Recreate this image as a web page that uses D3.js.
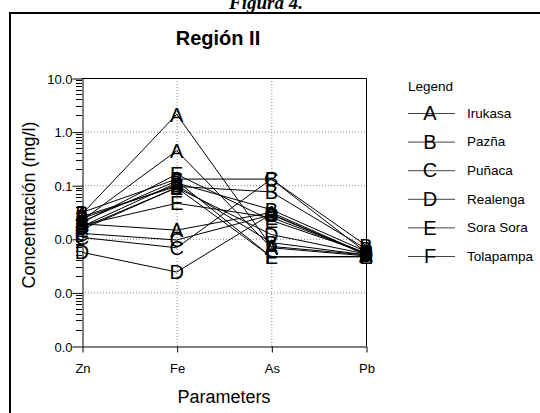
<!DOCTYPE html>
<html>
<head>
<meta charset="utf-8">
<script src="https://cdn.jsdelivr.net/npm/d3@7"></script>
<style>
  body { margin: 0; background: #fff; }
  svg { display: block; font-family: "Liberation Sans", Arial, sans-serif; }
</style>
</head>
<body>
<div id="chart"></div>
<script>
const params = ["Zn", "Fe", "As", "Pb"];
const sites = ["Irukasa", "Pazña", "Puñaca", "Realenga", "Sora Sora", "Tolapampa"];
const siteLetters = ["A", "B", "C", "D", "E", "F"];
const yTicks = [10, 1, 0.1, 0.01, 0.001, 0.0001];

// one entry per sample line
const sampleLetter = ["A", "A", "A", "B", "B", "B", "B", "C", "C", "D", "D", "E", "E", "F", "E"];
const znVals = [0.029, 0.022, 0.019, 0.031, 0.026, 0.024, 0.017, 0.0106, 0.0126, 0.0056, 0.016, 0.020, 0.018, 0.021, 0.015];
const feVals = [2.1, 0.44, 0.0145, 0.13, 0.095, 0.10, 0.11, 0.0068, 0.0095, 0.0024, 0.09, 0.16, 0.046, 0.12, 0.09];
const asVals = [0.0072, 0.0068, 0.031, 0.13, 0.075, 0.0085, 0.035, 0.13, 0.028, 0.029, 0.012, 0.022, 0.025, 0.0046, 0.0046];
const pbVals = [0.0050, 0.0048, 0.0052, 0.0075, 0.0065, 0.0050, 0.0058, 0.0056, 0.0053, 0.0050, 0.0052, 0.0055, 0.0054, 0.0046, 0.0047];

const samples = sampleLetter.map((l, i) => ({
    letter: l,
    values: [znVals[i], feVals[i], asVals[i], pbVals[i]]
}));

const W = 540, H = 413;
const plot = {left: 82, right: 366, top: 78, bottom: 346};

const svg = d3.select("#chart").append("svg")
    .attr("width", W)
    .attr("height", H);

// figure caption (cut at top edge, as in the scan)
svg.append("text")
    .attr("x", 266).attr("y", 9)
    .attr("text-anchor", "middle")
    .style("font-family", "'Liberation Serif', 'Times New Roman', serif")
    .style("font-weight", "bold").style("font-style", "italic")
    .style("font-size", "19px")
    .text("Figura 4.");

// outer frame
svg.append("rect")
    .attr("x", 10).attr("y", 13)
    .attr("width", 600).attr("height", 500)
    .attr("fill", "none").attr("stroke", "#000").attr("stroke-width", 2);

svg.append("text")
    .attr("x", 218).attr("y", 45)
    .attr("text-anchor", "middle")
    .style("font-weight", "bold").style("font-size", "20px")
    .text("Región II");

const x = d3.scalePoint()
    .domain(params)
    .range([plot.left, plot.right]);
const y = d3.scaleLog()
    .domain([0.0001, 10])
    .range([plot.bottom, plot.top]);

// grid
const grid = svg.append("g").attr("stroke", "#888").attr("stroke-dasharray", "1,2");
grid.selectAll(".hg")
    .data(yTicks.filter(d => d < 10 && d > 0.0001))
    .enter().append("line")
    .attr("x1", plot.left).attr("x2", plot.right)
    .attr("y1", d => y(d) + 0.5).attr("y2", d => y(d) + 0.5);
grid.selectAll(".vg")
    .data(["Fe", "As"])
    .enter().append("line")
    .attr("x1", d => x(d) + 0.5).attr("x2", d => x(d) + 0.5)
    .attr("y1", plot.top).attr("y2", plot.bottom);

// frame top / right
svg.append("path")
    .attr("d", "M" + plot.left + "," + (plot.top + 0.5) + "H" + (plot.right + 0.5) + "V" + plot.bottom)
    .attr("fill", "none").attr("stroke", "#000");

// minor ticks
const minor = [];
for (let e = -4; e < 1; e++) {
    for (let m = 2; m <= 9; m++) minor.push(m * Math.pow(10, e));
}
svg.append("g").selectAll("line")
    .data(minor)
    .enter().append("line")
    .attr("x1", plot.left - 6).attr("x2", plot.left)
    .attr("y1", d => Math.round(y(d)) + 0.5).attr("y2", d => Math.round(y(d)) + 0.5)
    .attr("stroke", "#000");

// y axis
const yAxis = svg.append("g")
    .attr("transform", "translate(" + (plot.left + 0.5) + ",0.5)")
    .call(d3.axisLeft(y).tickValues(yTicks).tickFormat(d3.format(".1f")).tickSize(10).tickPadding(0).tickSizeOuter(0));
yAxis.selectAll("text").style("font-size", "13px").attr("dy", "0.35em");
yAxis.select(".domain").attr("stroke", "#000");

// x axis
const xAxis = svg.append("g")
    .attr("transform", "translate(0.5," + (plot.bottom + 0.5) + ")")
    .call(d3.axisBottom(x).tickSize(6).tickPadding(11).tickSizeOuter(0));
xAxis.selectAll("text").style("font-size", "13px");

svg.append("text")
    .attr("x", 224).attr("y", 403)
    .attr("text-anchor", "middle")
    .style("font-size", "18px")
    .text("Parameters");

svg.append("text")
    .attr("transform", "translate(35,205) rotate(-90)")
    .attr("text-anchor", "middle")
    .style("font-size", "18px")
    .text("Concentración (mg/l)");

// sample lines
const line = d3.line()
    .x((d, i) => x(params[i]))
    .y(d => y(d));

svg.append("g").selectAll("path")
    .data(samples)
    .enter().append("path")
    .attr("d", d => line(d.values))
    .attr("fill", "none")
    .attr("stroke", "#000")
    .attr("stroke-width", 1);

// letter markers
samples.forEach(function (s) {
    svg.append("g").selectAll("text")
        .data(s.values)
        .enter().append("text")
        .attr("x", (d, i) => x(params[i]))
        .attr("y", d => y(d))
        .attr("dy", "0.36em")
        .attr("text-anchor", "middle")
        .style("font-size", "20px")
        .text(s.letter);
});

// legend
const leg = svg.append("g").attr("transform", "translate(408,0)");
leg.append("text")
    .attr("x", 0).attr("y", 91)
    .style("font-size", "13.5px")
    .text("Legend");

const items = leg.selectAll(".item")
    .data(sites)
    .enter().append("g")
    .attr("transform", (d, i) => "translate(0," + (113 + i * 28.6) + ")");
items.append("line")
    .attr("x1", 0).attr("x2", 47)
    .attr("y1", 0.5).attr("y2", 0.5)
    .attr("stroke", "#444");
items.append("text")
    .attr("x", 22).attr("dy", "0.36em")
    .attr("text-anchor", "middle")
    .style("font-size", "20px")
    .text((d, i) => siteLetters[i]);
items.append("text")
    .attr("x", 59).attr("dy", "0.35em")
    .style("font-size", "13.5px")
    .text(d => d);
</script>
</body>
</html>
